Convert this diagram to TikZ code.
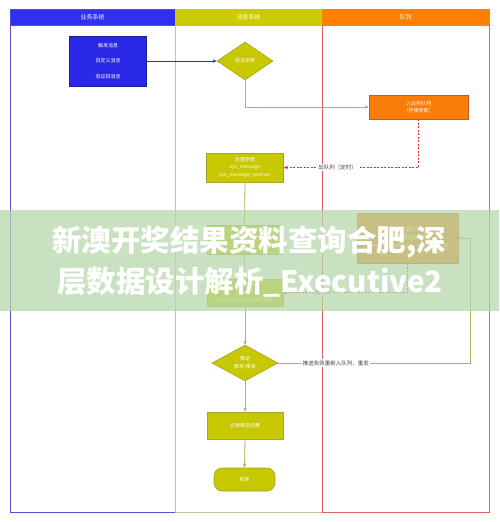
\documentclass[tikz,border=0pt]{standalone}
\usepackage{fontspec}
\setmainfont{Noto Sans CJK SC}
\usetikzlibrary{shapes.geometric,arrows.meta}
\definecolor{laneblue}{RGB}{48,48,240}
\definecolor{laneblueline}{RGB}{80,80,215}
\definecolor{laneolive}{RGB}{204,204,0}
\definecolor{laneoliveline}{RGB}{196,196,150}
\definecolor{laneorange}{RGB}{255,128,0}
\definecolor{laneredline}{RGB}{225,95,95}
\definecolor{boxblue}{RGB}{40,40,230}
\definecolor{boxblueline}{RGB}{30,30,150}
\definecolor{boxolive}{RGB}{200,200,0}
\definecolor{boxoliveline}{RGB}{165,165,40}
\definecolor{boxorange}{RGB}{250,125,10}
\definecolor{boxorangeline}{RGB}{205,90,20}
\definecolor{connolive}{RGB}{178,178,90}
\definecolor{connblue}{RGB}{40,40,220}
\definecolor{connred}{RGB}{225,45,45}
\definecolor{bannergreen}{RGB}{182,216,172}
\tikzset{
  lanehead/.style={draw, text=white, font=\fontsize{6}{7}\selectfont, minimum height=16pt, inner sep=0pt},
  lanebody/.style={line width=0.8pt},
  flowbox/.style={rectangle, draw=boxoliveline, fill=boxolive, line width=0.6pt, text=white,
    font=\fontsize{5}{7.5}\selectfont, align=center, inner sep=0pt},
  queuebox/.style={flowbox, draw=boxorangeline, fill=boxorange},
  decision/.style={diamond, draw=boxoliveline, fill=boxolive, line width=0.6pt, text=white,
    font=\fontsize{5}{8}\selectfont, align=center, inner sep=0pt},
  conn/.style={draw=connolive, line width=0.8pt, -{Stealth[length=4pt,width=3.5pt]}},
  dconn/.style={draw=connred, line width=0.7pt, dash pattern=on 2pt off 1.5pt, -{Stealth[length=4pt,width=3.5pt]}},
  lbl/.style={fill=white, text=black!75, font=\fontsize{5.5}{6}\selectfont, inner sep=1pt},
  banner/.style={text=white, font=\fontsize{29.5}{32}\selectfont\bfseries, inner sep=0pt}
}
\begin{document}
\begin{tikzpicture}[x=1pt,y=-1pt]
\useasboundingbox (0,0) rectangle (499,522);
\fill[white] (0,0) rectangle (499,522);
% lanes
\draw[lanebody, draw=laneblueline] (10,9) rectangle (175,512);
\draw[lanebody, draw=laneoliveline] (175,9) rectangle (322,512);
\draw[lanebody, draw=laneredline] (322,9) rectangle (489,512);
\node[lanehead, fill=laneblue, draw=laneblueline, minimum width=165pt] (h1) at (92.5,17) {业务系统};
\node[lanehead, fill=laneolive, draw=laneolive, minimum width=147pt] (h2) at (248.5,17) {消息系统};
\node[lanehead, fill=laneorange, draw=laneorange, minimum width=167pt] (h3) at (405.5,17) {队列};
% nodes
\node[flowbox, fill=boxblue, draw=boxblueline, minimum width=77pt, minimum height=50pt,
  font=\fontsize{5}{15.5}\selectfont] (src) at (108,61) {触发消息\\自定义消息\\验证码消息};
\node[decision, minimum width=56pt, minimum height=38pt] (chk) at (245,61) {验证参数};
\node[queuebox, minimum width=99pt, minimum height=24pt] (q1) at (418.5,107) {入业务队列\\（存储参数）};
\node[flowbox, minimum width=77pt, minimum height=29pt] (proc) at (245,167.5) {处理参数\\sys\_message\\sys\_message\_receiver};
\node[flowbox, minimum width=75pt, minimum height=29pt] (boxa) at (244.5,239.5) {查询接收人};
\node[queuebox, minimum width=101pt, minimum height=50pt, font=\fontsize{5.5}{8}\selectfont] (q2) at (407.5,238) {入推送队列\\（存储推送数据）\\user\_id，roles\_id，message\_id};
\node[flowbox, minimum width=76pt, minimum height=27pt] (boxb) at (245,292.5) {推送消息\\记录保存\\sys\_message\_push\_log};
\node[decision, minimum width=66pt, minimum height=36pt] (push) at (245,363) {推送\\群发/单发};
\node[flowbox, minimum width=76pt, minimum height=27pt] (rec) at (245,425.5) {记录推送结果};
\node[flowbox, rounded corners=8pt, minimum width=61pt, minimum height=23pt] (fin) at (244.5,479.5) {结束};
\coordinate (ret) at (470,363);
% connectors
\draw[conn, draw=connblue] (src.east) -- (chk.west);
\draw[conn] (chk.south) |- (q1.west);
\draw[dconn] (q1.south) |- node[lbl, pos=0.8] {出队列（定时）} (proc.east);
\draw[conn] (proc.south) -- (boxa.north);
\draw[conn] (boxa.south) -- (boxb.north);
\draw[dconn] (q2.south) |- node[lbl, pos=0.84] {出队列} (boxb.east);
\draw[conn] (boxb.south) -- (push.north);
\draw[conn] (push.east) -- node[lbl, pos=0.3] {推送失败重新入队列，重发} (ret) |- (q2.east);
\draw[conn] (push.south) -- (rec.north);
\draw[conn] (rec.south) -- (fin.north);
% banner overlay
\fill[bannergreen, opacity=0.74] (0,210) rectangle (499,311);
\node[banner] (b1) at (249,242) {新澳开奖结果资料查询合肥,深};
\node[banner] (b2) at (250,282) {层数据设计解析\_Executive2};
\end{tikzpicture}
\end{document}
